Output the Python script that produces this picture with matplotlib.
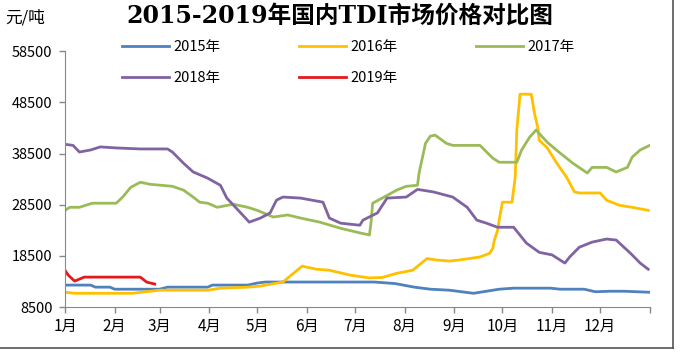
import numpy as np
import matplotlib.pyplot as plt
from matplotlib.lines import Line2D

plt.rcParams['font.family'] = ['Noto Sans CJK SC', 'DejaVu Sans']

# day of year -> price (元/吨)
d2015 = [0, 16, 19, 28, 31, 59, 64, 89, 92, 114, 120, 125, 193, 206, 218, 228, 240, 255, 271, 280, 303, 309, 324, 331, 340, 349, 365]
p2015 = [12800, 12800, 12400, 12400, 12000, 12000, 12400, 12400, 12800, 12800, 13200, 13400, 13400, 13100, 12400, 12000, 11800, 11200, 12000, 12200, 12200, 12000, 12000, 11500, 11600, 11600, 11400]

d2016 = [0, 6, 42, 59, 89, 97, 114, 122, 125, 136, 148, 157, 165, 178, 190, 198, 207, 217, 226, 232, 240, 246, 259, 265, 267, 268, 270, 271,
         273, 279, 281, 282, 284, 291, 293, 295, 296, 301, 307, 313, 318, 321, 334, 338, 346, 354, 364]
p2016 = [11400, 11200, 11200, 11800, 11800, 12200, 12400, 12600, 12800, 13400, 16500, 15900, 15700, 14750, 14200, 14300, 15100, 15700, 18000, 17700, 17500, 17700, 18300, 19000, 20000, 21600, 23500, 25500,
         29000, 29000, 33900, 43100, 50100, 50100, 46400, 43700, 41100, 39600, 36600, 33900, 31000, 30800, 30800, 29400, 28400, 28000, 27400]

d2017 = [0, 3, 9, 17, 32, 36, 41, 47, 53, 67, 74, 80, 84, 89, 95, 105, 114, 120, 130, 139, 147, 159, 172, 184, 190, 191, 192, 198, 207, 213, 220, 221,
         225, 228, 231, 238, 242, 259, 267, 271, 282, 285, 290, 294, 301, 309, 317, 326, 329, 338, 344, 351, 354, 359, 365]
p2017 = [27400, 28000, 28000, 28800, 28800, 30000, 31900, 32900, 32500, 32100, 31350, 30000, 29000, 28800, 28000, 28600, 28000, 27400, 26100, 26500, 25900, 25100, 23900, 23000, 22600, 25000, 28800, 29800, 31350, 32100, 32300, 34700,
         40500, 41900, 42100, 40500, 40100, 40100, 37600, 36800, 36800, 39200, 41700, 43100, 40700, 38600, 36600, 34700, 35800, 35800, 34900, 35800, 37800, 39200, 40100]

d2018 = [0, 5, 9, 16, 22, 32, 47, 64, 67, 74, 80, 89, 97, 101, 107, 115, 122, 128, 132, 136, 147, 161, 165, 172, 184, 186, 195, 201, 213, 220, 230,
         242, 251, 257, 263, 270, 280, 288, 296, 304, 312, 315, 321, 329, 338, 344, 353, 359, 364]
p2018 = [40300, 40100, 38800, 39200, 39800, 39600, 39400, 39400, 38800, 36600, 34900, 33700, 32300, 29800, 27800, 25100, 25900, 26900, 29400, 30000, 29800, 29000, 25900, 24900, 24500, 25500, 26900, 29800, 30000, 31500, 31000,
         30000, 28000, 25500, 24900, 24100, 24100, 21000, 19200, 18700, 17100, 18300, 20200, 21200, 21800, 21600, 19000, 17100, 15900]

d2019 = [0, 2, 6, 12, 47, 51, 56]
p2019 = [15700, 14750, 13580, 14360, 14360, 13380, 13000]

month_days = [0, 31, 59, 90, 120, 151, 181, 212, 243, 273, 304, 334, 365]
month_labels = ['1月', '2月', '3月', '4月', '5月', '6月', '7月', '8月', '9月', '10月', '11月', '12月', '']
y_ticks = [8500, 18500, 28500, 38500, 48500, 58500]

fig = plt.figure(figsize=(6.8, 3.53), dpi=100)
ax = fig.add_axes([0.0956, 0.130, 0.860, 0.725])

lw = 2.0
l15, = ax.plot(d2015, p2015, color='#4F81BD', lw=lw, label='2015年')
l16, = ax.plot(d2016, p2016, color='#FFC000', lw=lw, label='2016年')
l17, = ax.plot(d2017, p2017, color='#9BBB59', lw=lw, label='2017年')
l18, = ax.plot(d2018, p2018, color='#8064A2', lw=lw, label='2018年')
l19, = ax.plot(d2019, p2019, color='#E3191C', lw=lw, label='2019年')

ax.set_xlim(0, 365)
ax.set_ylim(8500, 58500)
ax.set_xticks(month_days)
ax.set_xticklabels(month_labels, fontsize=11)
ax.set_yticks(y_ticks)
ax.set_yticklabels([str(v) for v in y_ticks], fontsize=10.5)
ax.tick_params(direction='out', length=4, color='#888888', width=1)
ax.tick_params(axis='y', pad=5)
for s in ['top', 'right']:
    ax.spines[s].set_visible(False)
for s in ['left', 'bottom']:
    ax.spines[s].set_color('#888888')
ax.margins(0)

ax.legend(handles=[l15, l18, l16, l19, l17], ncol=3, frameon=False, fontsize=10.5,
          loc='upper left', bbox_to_anchor=(0.075, 1.095), handlelength=3.2,
          columnspacing=5.4, labelspacing=1.2, handletextpad=0.3)

fig.text(0.5, 0.955, '2015-2019年国内TDI市场价格对比图', ha='center', va='center',
         fontsize=17, fontweight='bold', family=['DejaVu Serif', 'Noto Sans CJK SC'])
fig.text(0.008, 0.95, '元/吨', ha='left', va='center', fontsize=12)

# outer frame (right and bottom edge)
fig.add_artist(Line2D([0.99, 0.99], [0.015, 1.0], transform=fig.transFigure, color='#555555', lw=1.2))
fig.add_artist(Line2D([0.0, 0.99], [0.015, 0.015], transform=fig.transFigure, color='#555555', lw=1.2))

fig.savefig('out.png', dpi=100)
